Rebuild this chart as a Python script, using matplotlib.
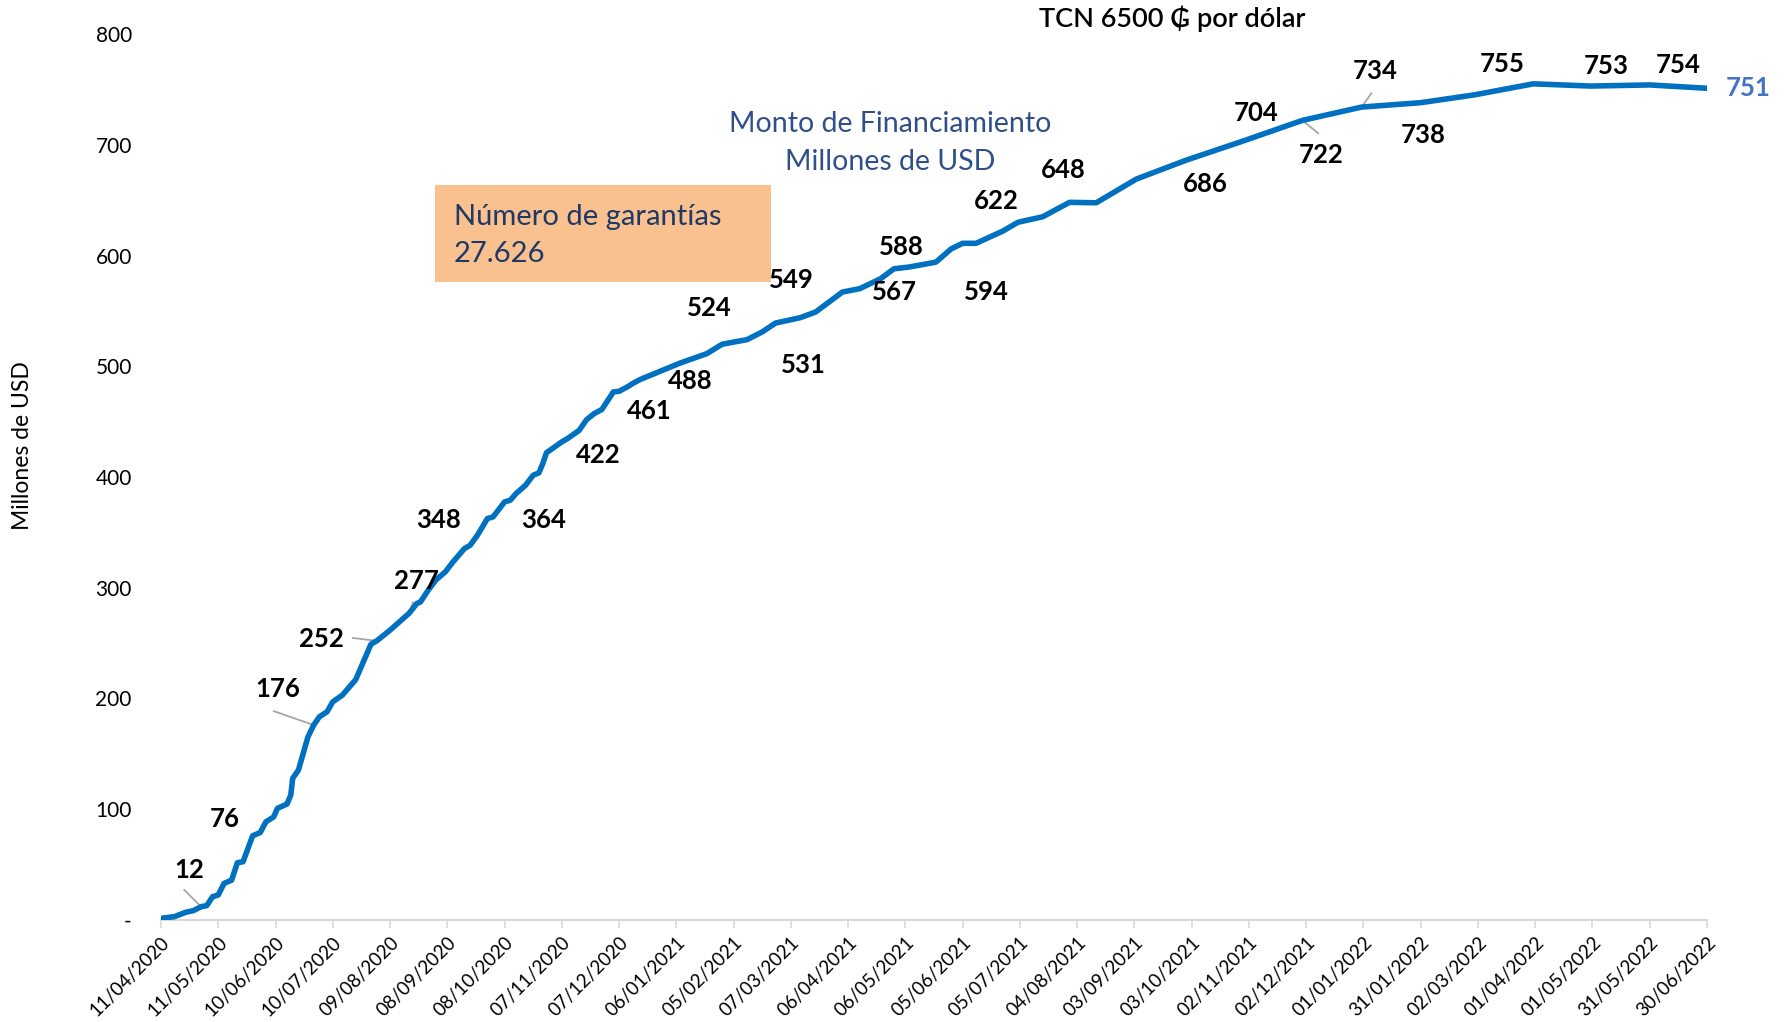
import pandas as pd
import numpy as np
import matplotlib
matplotlib.use("Agg")
import matplotlib.pyplot as plt
import matplotlib.dates as mdates
from matplotlib.ticker import FixedLocator, FuncFormatter

plt.rcParams['font.family'] = ['Lato', 'DejaVu Sans']

# Monto acumulado de financiamiento (millones de USD)
fechas = [
    "2020-04-11", "2020-04-18", "2020-04-24", "2020-04-28", "2020-05-02", "2020-05-05",
    "2020-05-08", "2020-05-11", "2020-05-14", "2020-05-18", "2020-05-21", "2020-05-24",
    "2020-05-29", "2020-06-02", "2020-06-05", "2020-06-09", "2020-06-11", "2020-06-16",
    "2020-06-18", "2020-06-19", "2020-06-22", "2020-06-25", "2020-06-27", "2020-06-30",
    "2020-07-03", "2020-07-07", "2020-07-10", "2020-07-15", "2020-07-22", "2020-07-30",
    "2020-08-02", "2020-08-09", "2020-08-19", "2020-08-23", "2020-08-25", "2020-08-29",
    "2020-09-02", "2020-09-07", "2020-09-11", "2020-09-17", "2020-09-20", "2020-09-24",
    "2020-09-29", "2020-10-02", "2020-10-08", "2020-10-11", "2020-10-14", "2020-10-19",
    "2020-10-23", "2020-10-26", "2020-10-28", "2020-10-30", "2020-11-02", "2020-11-07",
    "2020-11-10", "2020-11-16", "2020-11-20", "2020-11-24", "2020-11-28", "2020-12-04",
    "2020-12-07", "2020-12-12", "2020-12-14", "2020-12-18", "2021-01-08", "2021-01-22",
    "2021-01-30", "2021-02-12", "2021-02-20", "2021-02-27", "2021-03-12", "2021-03-20",
    "2021-03-27", "2021-04-03", "2021-04-12", "2021-04-23", "2021-04-30", "2021-05-08",
    "2021-05-22", "2021-05-30", "2021-06-05", "2021-06-12", "2021-06-26", "2021-07-04",
    "2021-07-17", "2021-07-31", "2021-08-14", "2021-09-04", "2021-09-30", "2021-10-31",
    "2021-11-30", "2021-12-31", "2022-01-31", "2022-02-28", "2022-03-31", "2022-04-30",
    "2022-05-31", "2022-06-30",
]
monto = [
    1.5, 3, 7, 8.5, 12, 13,
    21, 22.6, 33, 36, 51.7, 52.6,
    76, 79, 88.7, 93, 100.8, 104.7,
    112.8, 127.9, 135.4, 153.4, 165.4, 176,
    183.5, 188, 197, 203, 217, 249,
    252, 261.7, 277, 285.7, 287.3, 297.8,
    306.9, 314.4, 323.4, 335.4, 338.4, 348,
    362.5, 364, 377.5, 379, 385, 392.6,
    401.6, 403.7, 412, 422, 425.6, 431.7,
    434.7, 442, 451.8, 457.3, 461, 476.8,
    477.4, 482, 484.3, 488, 502.9, 511.4,
    519.9, 524, 531, 539, 543.9, 549,
    558, 567, 570, 579, 588, 589.6,
    594, 606, 611, 611, 622, 630,
    635, 648, 647.6, 669, 686, 704,
    722, 734, 738, 745, 755, 753,
    754, 751,
]

# fechas con etiqueta de valor
fechas_etiqueta = [
    "2020-05-02", "2020-05-29", "2020-06-30", "2020-08-02", "2020-08-19", "2020-09-24",
    "2020-10-02", "2020-10-30", "2020-11-28", "2020-12-18", "2021-02-12", "2021-02-20",
    "2021-03-20", "2021-04-03", "2021-04-30", "2021-05-22", "2021-06-26", "2021-07-31",
    "2021-09-30", "2021-10-31", "2021-11-30", "2021-12-31", "2022-01-31", "2022-03-31",
    "2022-04-30", "2022-05-31", "2022-06-30",
]
# desplazamiento de cada etiqueta (pixeles)
desplaz = [
    (-12, 37), (-28, 17), (-36, 36), (-55, 2), (7, 32), (-39, 15),
    (50, -3), (52, -2), (47, -2), (50, -1), (-38, 32), (41, -33),
    (-24, 32), (52, 0), (7, 22), (50, -30), (-6, 30), (-6, 32),
    (19, -24), (11, 27), (19, -35), (14, 36), (2, -32), (-31, 20),
    (16, 20), (28, 20), (41, 0),
]
# lineas guia (inicio relativo al punto, pixeles)
guias = {
    "2020-05-02": (-17, 17),
    "2020-06-30": (-40, 14),
    "2020-08-02": (-24, 3),
    "2020-08-19": (4, 11),
    "2021-11-30": (16, -13),
    "2021-12-31": (10, 14),
}

fechas_dt = pd.to_datetime(fechas)
serie = pd.Series(monto, index=fechas_dt)

inicio = pd.Timestamp("2020-04-11")
fin = pd.Timestamp("2022-06-30")
ticks = pd.date_range(inicio, fin, freq="30D")

fig = plt.figure(figsize=(17.89, 10.22), dpi=100)
ax = fig.add_axes([161 / 1789, 1 - 920 / 1022, 1546 / 1789, 886 / 1022])

ax.plot(serie.index, serie.values, color="#0070C0", lw=4, solid_joinstyle="round",
        solid_capstyle="round", zorder=3)

ax.set_xlim(inicio, fin)
ax.set_ylim(0, 800)

for s in ["left", "top", "right"]:
    ax.spines[s].set_visible(False)
ax.spines["bottom"].set_color("#D9D9D9")
ax.spines["bottom"].set_linewidth(1.5)

ax.set_yticks(np.arange(0, 801, 100))
ax.yaxis.set_major_formatter(FuncFormatter(lambda v, p: "-" if v == 0 else f"{v:.0f}"))
ax.tick_params(axis="y", length=0, pad=21, labelsize=15)

ax.xaxis.set_major_locator(FixedLocator(mdates.date2num(ticks)))
ax.xaxis.set_major_formatter(mdates.DateFormatter("%d/%m/%Y"))
ax.tick_params(axis="x", direction="out", length=6, width=1.2, color="#D9D9D9",
               labelsize=13.5, pad=4)
for lbl in ax.get_xticklabels():
    lbl.set_rotation(45)
    lbl.set_ha("right")
    lbl.set_rotation_mode("anchor")

ax.set_ylabel("Millones de USD", fontsize=16.5)
ax.yaxis.set_label_coords(-0.083, 0.536)

# etiquetas de valores
for f, (dx, dy) in zip(fechas_etiqueta, desplaz):
    x = pd.Timestamp(f)
    v = serie[x]
    ultimo = x == fin
    ax.annotate(f"{v:.0f}", xy=(x, v), xytext=(dx, dy), textcoords="offset pixels",
                ha="center", va="center", fontsize=18.5, fontweight="bold",
                color="#4472C4" if ultimo else "black", zorder=4)
    if f in guias:
        gx, gy = guias[f]
        ax.annotate("", xy=(x, v), xytext=(gx, gy), textcoords="offset pixels",
                    arrowprops=dict(arrowstyle="-", color="#A6A6A6", lw=1.3,
                                    shrinkA=0, shrinkB=0), zorder=2)

# titulos y recuadro
fig.text(1172 / 1789, 1 - 19 / 1022, "TCN 6500 ₲ por dólar", ha="center", va="center",
         fontsize=19.5, fontweight="semibold", color="black",
         family=["Lato", "DejaVu Sans"])
fig.text(890 / 1789, 1 - 124 / 1022, "Monto de Financiamiento", ha="center", va="center",
         fontsize=20.5, color="#2F4F8A")
fig.text(890 / 1789, 1 - 162 / 1022, "Millones de USD", ha="center", va="center",
         fontsize=20.5, color="#2F4F8A")

caja = plt.Rectangle((435 / 1789, 1 - 282 / 1022), 336 / 1789, 97 / 1022,
                     transform=fig.transFigure, facecolor="#F9C190", edgecolor="none",
                     zorder=5)
fig.patches.append(caja)
fig.text(454 / 1789, 1 - 217 / 1022, "Número de garantías", ha="left", va="center",
         fontsize=21, color="#1F3864", zorder=6)
fig.text(454 / 1789, 1 - 254 / 1022, "27.626", ha="left", va="center",
         fontsize=21, color="#1F3864", zorder=6)

fig.savefig("out.png", dpi=100)
